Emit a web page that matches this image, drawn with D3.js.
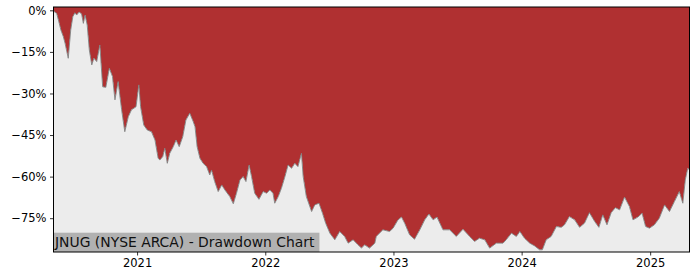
<!DOCTYPE html>
<html>
<head>
<meta charset="utf-8">
<script src="https://cdn.jsdelivr.net/npm/d3@7"></script>
<style>
  html, body { margin: 0; padding: 0; background: #fff; }
  svg { display: block; font-family: "DejaVu Sans", sans-serif; }
</style>
</head>
<body>
<div id="chart"></div>
<script>
'use strict';

const width = 700;
const height = 280;

// drawdown samples (date, % below previous peak)
const dates = [
  "2020-05-08", "2020-05-10", "2020-05-17", "2020-05-22", "2020-05-29", "2020-06-05", "2020-06-10", "2020-06-19",
  "2020-06-26", "2020-07-02", "2020-07-08", "2020-07-13", "2020-07-20", "2020-07-27", "2020-08-01", "2020-08-06",
  "2020-08-12", "2020-08-18", "2020-08-25", "2020-08-31", "2020-09-08", "2020-09-17", "2020-09-25", "2020-10-04",
  "2020-10-14", "2020-10-23", "2020-10-30", "2020-11-08", "2020-11-18", "2020-11-27", "2020-12-07", "2020-12-16",
  "2020-12-29", "2021-01-06", "2021-01-11", "2021-01-20", "2021-01-30", "2021-02-11", "2021-02-21", "2021-03-02",
  "2021-03-07", "2021-03-15", "2021-03-21", "2021-03-28", "2021-04-04", "2021-04-14", "2021-04-22", "2021-05-01",
  "2021-05-11", "2021-05-20", "2021-05-31", "2021-06-10", "2021-06-15", "2021-06-21", "2021-06-29", "2021-07-08",
  "2021-07-18", "2021-07-27", "2021-08-01", "2021-08-10", "2021-08-20", "2021-08-30", "2021-09-08", "2021-09-22",
  "2021-10-02", "2021-10-11", "2021-10-21", "2021-10-30", "2021-11-07", "2021-11-16", "2021-11-23", "2021-12-02",
  "2021-12-14", "2021-12-26", "2022-01-05", "2022-01-14", "2022-01-23", "2022-01-28", "2022-02-07", "2022-02-16",
  "2022-02-26", "2022-03-07", "2022-03-17", "2022-03-26", "2022-04-04", "2022-04-14", "2022-04-19", "2022-04-28",
  "2022-05-13", "2022-05-22", "2022-06-03", "2022-06-13", "2022-06-22", "2022-07-04", "2022-07-18", "2022-08-01",
  "2022-08-15", "2022-08-25", "2022-09-08", "2022-09-22", "2022-10-02", "2022-10-11", "2022-10-25", "2022-11-09",
  "2022-11-13", "2022-12-02", "2022-12-21", "2022-12-31", "2023-01-14", "2023-01-24", "2023-02-02", "2023-02-16",
  "2023-03-02", "2023-03-17", "2023-03-31", "2023-04-12", "2023-04-24", "2023-05-05", "2023-05-22", "2023-06-10",
  "2023-06-29", "2023-07-18", "2023-08-06", "2023-08-20", "2023-09-03", "2023-09-18", "2023-10-02", "2023-10-21",
  "2023-11-09", "2023-11-18", "2023-12-03", "2023-12-17", "2023-12-27", "2024-01-09", "2024-01-24", "2024-02-07",
  "2024-02-21", "2024-02-29", "2024-03-11", "2024-03-25", "2024-04-09", "2024-04-23", "2024-05-02", "2024-05-16",
  "2024-05-31", "2024-06-14", "2024-06-28", "2024-07-12", "2024-07-27", "2024-08-08", "2024-08-19", "2024-08-31",
  "2024-09-12", "2024-09-24", "2024-10-06", "2024-10-20", "2024-11-03", "2024-11-13", "2024-11-27", "2024-12-09",
  "2024-12-19", "2024-12-30", "2025-01-13", "2025-01-27", "2025-02-11", "2025-02-25", "2025-03-11", "2025-03-25",
  "2025-04-04", "2025-04-11", "2025-04-18", "2025-04-23"
];
const drawdown = [
  0, -0.5, -1.1, -3.5, -7.1, -9.5, -11.9, -17.3,
  -7.1, -2.3, -0.9, -1.7, -0.6, -1.3, -4.7, -1.7,
  -5.3, -14.3, -19.7, -17.3, -18.5, -12.5, -27.6, -27.8,
  -20.9, -23.9, -32.3, -25.7, -35.9, -43.8, -38.4, -35.9,
  -34.8, -26.9, -34.8, -41.4, -43.2, -43.8, -46.8, -53.4,
  -54.0, -52.8, -49.8, -55.2, -51.6, -49.2, -46.8, -49.2,
  -45.6, -39.6, -37.1, -40.2, -42.0, -49.2, -53.4, -55.2,
  -56.4, -59.4, -57.6, -61.8, -65.4, -63.0, -64.8, -67.2,
  -69.8, -66.0, -61.2, -60.0, -61.8, -55.8, -60.0, -66.0,
  -68.2, -65.4, -66.0, -64.8, -66.0, -69.6, -67.2, -64.2,
  -60.0, -55.8, -57.0, -55.2, -56.4, -51.6, -60.0, -67.2,
  -72.6, -70.2, -69.6, -73.2, -76.8, -80.4, -82.8, -79.8,
  -81.6, -84.0, -82.8, -84.6, -85.8, -84.6, -85.8, -84.0,
  -81.6, -79.2, -79.8, -78.6, -75.6, -74.6, -76.8, -81.0,
  -82.6, -79.2, -75.6, -73.5, -75.6, -74.6, -79.2, -79.2,
  -81.6, -79.0, -81.6, -83.4, -82.2, -82.8, -85.8, -84.0,
  -84.0, -82.8, -80.4, -81.6, -79.8, -82.2, -84.0, -85.0,
  -86.4, -86.4, -82.8, -81.6, -78.0, -78.3, -77.4, -74.4,
  -75.6, -78.3, -76.8, -73.0, -76.2, -78.3, -73.8, -77.4,
  -73.0, -71.2, -72.0, -67.4, -70.8, -75.6, -74.6, -73.2,
  -78.0, -78.6, -77.4, -75.0, -70.2, -72.6, -69.0, -65.4,
  -69.6, -61.2, -57.0, -57.6
];
const yTicks = [0, -15, -30, -45, -60, -75];
const xTickYears = ["2021", "2022", "2023", "2024", "2025"];
const title = "JNUG (NYSE ARCA) - Drawdown Chart";

const parse = d3.utcParse("%Y-%m-%d");
const data = d3.zip(dates.map(parse), drawdown);

const margin = { top: 7, right: 10.5, bottom: 28, left: 53.5 };

const x = d3.scaleUtc()
    .domain([parse("2020-05-08"), parse("2025-04-23")])
    .range([margin.left, width - margin.right]);
const y = d3.scaleLinear()
    .domain([-87.2, 1.2])
    .range([height - margin.bottom, margin.top]);

const svg = d3.select("#chart").append("svg")
    .attr("width", width)
    .attr("height", height);

// red part: from the top of the axes down to the curve
const upper = d3.area()
    .x(d => x(d[0]))
    .y0(y.range()[1])
    .y1(d => y(d[1]));
svg.append("path")
    .attr("d", upper(data))
    .attr("fill", "#b03031");

// grey part: below the curve
const lower = d3.area()
    .x(d => x(d[0]))
    .y0(y.range()[0])
    .y1(d => y(d[1]));
svg.append("path")
    .attr("d", lower(data))
    .attr("fill", "#ececec");

const line = d3.line()
    .x(d => x(d[0]))
    .y(d => y(d[1]));
svg.append("path")
    .attr("d", line(data))
    .attr("fill", "none")
    .attr("stroke", "#808080")
    .attr("stroke-width", 0.9);

// label box
const label = svg.append("g");
const labelText = label.append("text")
    .attr("x", margin.left + 1.5)
    .attr("y", 247)
    .attr("font-size", 13.9)
    .attr("fill", "#111")
    .text(title);
const tw = labelText.node().getComputedTextLength();
label.insert("rect", "text")
    .attr("x", margin.left)
    .attr("y", 232.7)
    .attr("width", tw + 6.5)
    .attr("height", height - margin.bottom - 232.7)
    .attr("fill", "#b1b1b1");

// frame
svg.append("rect")
    .attr("x", margin.left)
    .attr("y", margin.top)
    .attr("width", width - margin.left - margin.right)
    .attr("height", height - margin.top - margin.bottom)
    .attr("fill", "none")
    .attr("stroke", "#000")
    .attr("stroke-width", 1);

// axes
const fmtPct = d => (d < 0 ? "\u2212" + (-d) : d) + "%";
const yAxis = svg.append("g")
    .attr("transform", `translate(${margin.left},0)`)
    .call(d3.axisLeft(y).tickValues(yTicks).tickFormat(fmtPct).tickSize(3.5).tickPadding(3.5));
const xAxis = svg.append("g")
    .attr("transform", `translate(0,${height - margin.bottom})`)
    .call(d3.axisBottom(x).tickValues(xTickYears.map(v => d3.utcParse("%Y")(v)))
        .tickFormat(d3.utcFormat("%Y")).tickSize(3.5).tickPadding(3.5));

[yAxis, xAxis].forEach(g => {
    g.select(".domain").remove();
    g.selectAll(".tick line").attr("stroke", "#000").attr("stroke-width", 0.8);
    g.selectAll(".tick text")
        .attr("font-family", "DejaVu Sans")
        .attr("font-size", 11.5)
        .attr("fill", "#000");
});
</script>
</body>
</html>
